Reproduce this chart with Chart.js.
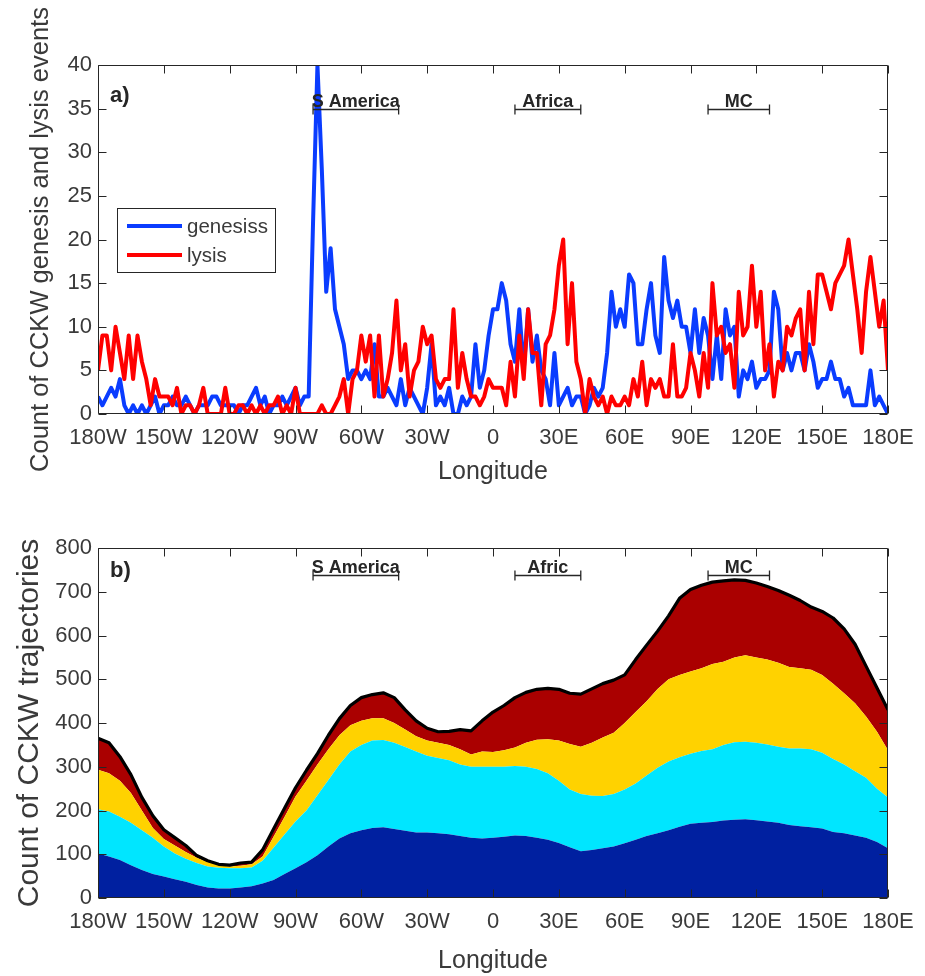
<!DOCTYPE html>
<html><head><meta charset="utf-8">
<script src="https://cdn.jsdelivr.net/npm/chart.js@4.4.1/dist/chart.umd.min.js"></script>
<style>
html,body{margin:0;padding:0;background:#fff;}
#wrap{position:relative;width:925px;height:976px;background:#fff;}
canvas{position:absolute;left:0;display:block;}
</style></head><body>
<div id="wrap">
<canvas id="ca" width="925" height="490" style="top:0"></canvas>
<canvas id="cb" width="925" height="486" style="top:490px"></canvas>
</div>
<script>
// ---------- DATA ----------
// panel a: counts per longitude bin, 2 degree bins from 180W to 180E
const lonStartA = -180, lonStepA = 2;
const genesis = [
 2,1,2,3,2,4,1,0,1,0,1,0,1,2,0,1,1,2,1,1,2,1,0,1,1,1,2,2,1,1,1,
 1,0,1,1,2,3,1,2,0,1,1,2,1,2,3,1,2,2,22,40,28,14,19,12,10,8,4,5,5,4,
 5,4,8,2,2,3,2,1,4,1,3,2,1,0,3,8,1,2,1,3,0,0,2,1,2,8,3,5,9,12,
 12,15,13,8,6,12,5,12,6,9,5,4,1,7,1,2,3,1,2,2,0,1,3,2,3,7,14,10,12,10,
 16,15,8,8,12,15,9,7,18,13,11,13,10,10,7,12,7,11,9,4,9,4,12,9,10,2,5,4,6,3,
 4,4,5,14,12,5,7,5,7,7,5,8,6,3,4,4,6,4,4,2,3,1,1,1,1,5,1,2,1,0
];
const lysis = [
 5,9,9,5,10,7,4,9,4,9,6,4,1,4,2,2,2,1,3,0,1,1,0,1,3,0,0,0,0,3,0,
 0,1,1,0,1,0,1,0,1,1,2,0,1,0,3,0,0,0,0,0,1,0,0,1,2,4,0,4,5,9,
 6,9,2,9,2,4,7,13,5,8,2,5,6,10,8,9,4,3,4,4,12,3,7,4,2,2,1,2,4,3,
 3,3,1,6,2,9,4,12,7,7,1,8,9,12,17,20,8,15,6,4,0,4,2,1,2,0,2,1,1,2,
 1,4,2,6,1,4,3,4,2,2,8,2,2,3,7,5,2,7,3,15,9,10,7,8,3,14,9,10,17,10,
 14,5,8,2,6,5,10,9,11,12,5,14,8,16,16,14,12,15,16,17,20,16,12,7,14,18,14,10,13,5
];
// panel b: seasonal trajectory counts, 5 degree bins from 180W to 180E
const lonStartB = -180, lonStepB = 5;
const DJF = [102,95,87,75,64,55,49,43,37,30,24,22,22,24,27,33,41,55,68,82,98,118,136,148,155,160,162,158,154,150,150,148,146,142,138,136,138,
 140,143,142,138,133,126,116,107,110,114,118,125,133,142,148,155,163,170,172,174,177,179,180,178,175,172,167,164,162,159,151,148,143,138,128,114];
const MAM = [101,103,99,97,91,83,69,59,53,50,48,47,46,44,43,52,74,90,107,118,137,152,169,187,195,200,199,197,191,185,175,172,169,163,162,164,162,
 160,159,158,157,152,142,132,131,124,119,120,123,129,138,150,157,159,160,164,166,173,177,177,177,176,174,175,178,178,173,167,157,147,137,122,116];
const JJA = [90,87,82,68,45,22,17,18,15,12,10,6,4,6,7,10,25,40,57,68,70,70,67,60,55,51,50,45,40,35,35,35,35,35,28,35,34,
 38,42,55,67,78,92,104,108,121,134,140,152,163,170,180,188,188,188,189,195,190,194,198,195,194,192,186,183,182,178,172,163,155,140,130,108];
const SON = [72,70,55,42,30,28,21,18,15,5,3,2,3,6,5,15,18,20,20,24,25,32,38,45,53,54,58,58,45,35,28,25,31,45,54,70,91,
 102,114,115,115,116,117,116,120,123,123,120,110,120,128,132,145,175,187,190,187,185,177,171,170,167,165,164,155,143,145,150,147,135,115,100,92];

const xTickValues = [-180,-150,-120,-90,-60,-30,0,30,60,90,120,150,180];
const xTickLabels = ['180W','150W','120W','90W','60W','30W','0','30E','60E','90E','120E','150E','180E'];
const regionsA = [{name:'S America',lo:-82,hi:-43},{name:'Africa',lo:10,hi:40},{name:'MC',lo:98,hi:126}];
const regionsB = [{name:'S America',lo:-82,hi:-43},{name:'Afric',lo:10,hi:40},{name:'MC',lo:98,hi:126}];

// ---------- STYLE ----------
const FONT = '"Liberation Sans", Arial, Helvetica, sans-serif';
const AXC = '#262626';
const TXT = '#3a3a3a';
const C_GEN = '#0a3cff', C_LYS = '#ff0000';
const C_DJF = '#0020a0', C_MAM = '#00e6ff', C_JJA = '#ffd200', C_SON = '#aa0000';

const lonA = genesis.map((_, i) => lonStartA + i * lonStepA);
const lonB = DJF.map((_, i) => lonStartB + i * lonStepB);
const pts = (lons, vals) => vals.map((v, i) => ({x: lons[i], y: v}));
const total = DJF.map((v, i) => v + MAM[i] + JJA[i] + SON[i]);

function xScale(h, titlePadBottom) {
  return {
    type: 'linear', min: -180, max: 180,
    afterBuildTicks: s => { s.ticks = xTickValues.map(v => ({value: v})); },
    ticks: {
      autoSkip: false, maxRotation: 0, padding: 11, color: TXT,
      font: {family: FONT, size: 22},
      callback: v => xTickLabels[xTickValues.indexOf(v)]
    },
    grid: {display: false, drawTicks: false},
    border: {display: false},
    title: {display: true, text: 'Longitude', color: TXT, font: {family: FONT, size: 25, lineHeight: 1.2},
            padding: {top: 0, bottom: titlePadBottom}},
    afterFit: s => { s.height = h; }
  };
}
function yScale(max, step, title, titlePadTop, titleSize) {
  return {
    min: 0, max: max,
    ticks: {stepSize: step, padding: 6, color: TXT, font: {family: FONT, size: 22}},
    grid: {display: false, drawTicks: false},
    border: {display: false},
    title: {display: true, text: title, color: TXT, font: {family: FONT, size: titleSize, lineHeight: 1.2},
            padding: {top: titlePadTop, bottom: 0}},
    afterFit: s => { s.width = 98; }
  };
}

function deco(cfg) {
  return {
    id: 'deco',
    afterDraw(chart) {
      const ctx = chart.ctx, a = chart.chartArea, xs = chart.scales.x, ys = chart.scales.y;
      ctx.save();
      ctx.strokeStyle = AXC; ctx.lineWidth = 1;
      const L = Math.round(a.left) + 0.5, R = Math.round(a.right) - 0.5, T = Math.round(a.top) + 0.5, B = Math.round(a.bottom) - 0.5;
      ctx.beginPath(); ctx.rect(L, T, R - L, B - T); ctx.stroke();
      ctx.beginPath();
      xs.ticks.forEach(t => {
        const p = Math.round(xs.getPixelForValue(t.value)) + 0.5;
        ctx.moveTo(p, B); ctx.lineTo(p, B - 8);
        ctx.moveTo(p, T); ctx.lineTo(p, T + 8);
      });
      ys.ticks.forEach(t => {
        const p = Math.round(ys.getPixelForValue(t.value)) + 0.5;
        ctx.moveTo(L, p); ctx.lineTo(L + 8, p);
        ctx.moveTo(R, p); ctx.lineTo(R - 8, p);
      });
      ctx.stroke();
      // panel letter
      ctx.fillStyle = AXC;
      ctx.font = 'bold 22px ' + FONT;
      ctx.textAlign = 'left'; ctx.textBaseline = 'alphabetic';
      ctx.fillText(cfg.letter, a.left + 12, a.top + cfg.letterDy);
      // region brackets
      const by = Math.round(ys.getPixelForValue(cfg.bracketVal)) + 0.5;
      ctx.font = 'bold 18px ' + FONT;
      ctx.textAlign = 'center';
      ctx.lineWidth = 1.3;
      cfg.regions.forEach(r => {
        const x0 = xs.getPixelForValue(r.lo), x1 = xs.getPixelForValue(r.hi);
        ctx.beginPath();
        ctx.moveTo(x0, by); ctx.lineTo(x1, by);
        ctx.moveTo(x0, by - 5); ctx.lineTo(x0, by + 5);
        ctx.moveTo(x1, by - 5); ctx.lineTo(x1, by + 5);
        ctx.stroke();
        ctx.fillText(r.name, (x0 + x1) / 2, by - 3);
      });
      // legend
      const lg = cfg.legend;
      ctx.lineWidth = 1;
      ctx.fillStyle = '#fff';
      ctx.fillRect(lg.x, lg.y, lg.w, lg.h);
      ctx.strokeStyle = AXC;
      ctx.strokeRect(lg.x + 0.5, lg.y + 0.5, lg.w, lg.h);
      ctx.font = lg.fontSize + 'px ' + FONT;
      ctx.textAlign = 'left'; ctx.textBaseline = 'middle';
      lg.items.forEach((it, i) => {
        const cy = lg.y + lg.first + i * lg.gap;
        if (lg.kind === 'line') {
          ctx.strokeStyle = it.color; ctx.lineWidth = 4;
          ctx.beginPath(); ctx.moveTo(lg.x + 10, cy); ctx.lineTo(lg.x + 65, cy); ctx.stroke();
        } else {
          ctx.fillStyle = it.color;
          ctx.fillRect(lg.x + 10, cy - 11, 54, 22);
        }
        ctx.fillStyle = TXT;
        ctx.fillText(it.label, lg.x + 70, cy + 1);
      });
      ctx.restore();
    }
  };
}

// ---------- PANEL A ----------
new Chart(document.getElementById('ca'), {
  type: 'line',
  data: {datasets: [
    {label: 'genesiss', data: pts(lonA, genesis), borderColor: C_GEN, borderWidth: 4, pointRadius: 0, tension: 0, order: 2, borderJoinStyle: 'round'},
    {label: 'lysis', data: pts(lonA, lysis), borderColor: C_LYS, borderWidth: 4, pointRadius: 0, tension: 0, order: 1, borderJoinStyle: 'round'}
  ]},
  options: {
    responsive: false, animation: false, devicePixelRatio: 1,
    layout: {padding: {left: 0, right: 37, top: 65, bottom: 0}},
    plugins: {legend: {display: false}, tooltip: {enabled: false}},
    scales: {
      x: xScale(76, 3),
      y: yScale(40, 5, 'Count of CCKW genesis and lysis events', 26, 25.5)
    }
  },
  plugins: [deco({
    letter: 'a)', letterDy: 37, bracketVal: 35, regions: regionsA,
    legend: {kind: 'line', x: 117, y: 208, w: 158, h: 64, first: 18, gap: 29, fontSize: 20.5,
      items: [{label: 'genesiss', color: C_GEN}, {label: 'lysis', color: C_LYS}]}
  })]
});

// ---------- PANEL B ----------
new Chart(document.getElementById('cb'), {
  type: 'line',
  data: {datasets: [
    {label: 'total', data: pts(lonB, total), borderColor: '#000', borderWidth: 3.2, pointRadius: 0, tension: 0, fill: false, stack: 'total', borderJoinStyle: 'round'},
    {label: 'DJF', data: pts(lonB, DJF), borderWidth: 0, borderColor: C_DJF, backgroundColor: C_DJF, pointRadius: 0, tension: 0, fill: 'origin', stack: 's'},
    {label: 'MAM', data: pts(lonB, MAM), borderWidth: 0, borderColor: C_MAM, backgroundColor: C_MAM, pointRadius: 0, tension: 0, fill: '-1', stack: 's'},
    {label: 'JJA', data: pts(lonB, JJA), borderWidth: 0, borderColor: C_JJA, backgroundColor: C_JJA, pointRadius: 0, tension: 0, fill: '-1', stack: 's'},
    {label: 'SON', data: pts(lonB, SON), borderWidth: 0, borderColor: C_SON, backgroundColor: C_SON, pointRadius: 0, tension: 0, fill: '-1', stack: 's'}
  ]},
  options: {
    responsive: false, animation: false, devicePixelRatio: 1,
    layout: {padding: {left: 0, right: 37, top: 58, bottom: 0}},
    plugins: {legend: {display: false}, tooltip: {enabled: false}, filler: {propagate: false}},
    scales: {
      x: xScale(78, 0),
      y: Object.assign(yScale(800, 100, 'Count of CCKW trajectories', 12, 30), {stacked: true})
    }
  },
  plugins: [deco({
    letter: 'b)', letterDy: 29, bracketVal: 738, regions: regionsB,
    legend: {kind: 'box', x: 117, y: 662, w: 124, h: 121, first: 19, gap: 28.5, fontSize: 21,
      items: [{label: 'DJF', color: C_DJF}, {label: 'MAM', color: C_MAM}, {label: 'JJA', color: C_JJA}, {label: 'SON', color: C_SON}]}
  })]
});
</script>
</body></html>
